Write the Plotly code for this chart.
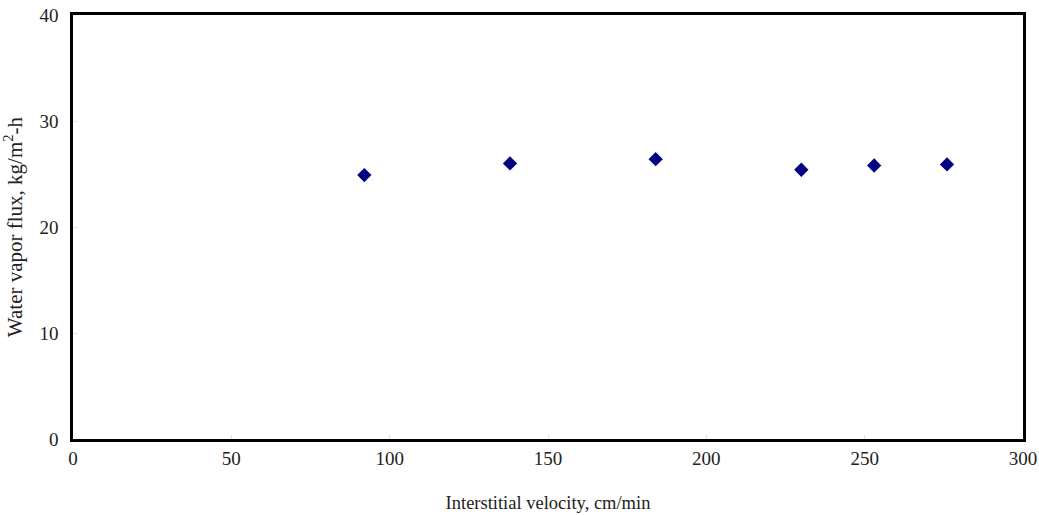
import plotly.graph_objects as go

velocity = [92, 138, 184, 230, 253, 276]
flux = [24.9, 26.0, 26.4, 25.4, 25.8, 25.9]
x_ticks = [0, 50, 100, 150, 200, 250, 300]
y_ticks = [0, 10, 20, 30, 40]

fig = go.Figure()
fig.add_trace(go.Scatter(
    x=velocity, y=flux, mode="markers",
    marker=dict(symbol="diamond", size=11, color="#000080"),
    showlegend=False,
))

font = dict(family="Liberation Serif, Times New Roman, serif", size=18, color="#222")
fig.update_layout(
    width=1039, height=515,
    margin=dict(l=73, r=16, t=15, b=76),
    plot_bgcolor="white", paper_bgcolor="white",
    font=font,
)
fig.update_xaxes(
    range=[0, 300], tickvals=x_ticks, showgrid=False, zeroline=False,
    showline=True, linecolor="black", linewidth=2.5, mirror=True,
    ticks="inside", ticklen=4, tickcolor="#ddd", automargin=False,
    title=dict(text="Interstitial velocity, cm/min", font=dict(size=18.5), standoff=29),
    tickfont=dict(size=19),
)
fig.update_yaxes(
    range=[0, 40], tickvals=y_ticks, showgrid=False, zeroline=False,
    showline=True, linecolor="black", linewidth=2.5, mirror=True,
    ticks="inside", ticklen=4, tickcolor="#ddd", automargin=False,
    ticklabelstandoff=8,
    title=dict(text="Water vapor flux, kg/m<sup>2</sup>-h", font=dict(size=21), standoff=12),
    tickfont=dict(size=19),
)

fig.write_html("out.html", config={"displayModeBar": False},
               post_script="document.body.style.margin='0';")
